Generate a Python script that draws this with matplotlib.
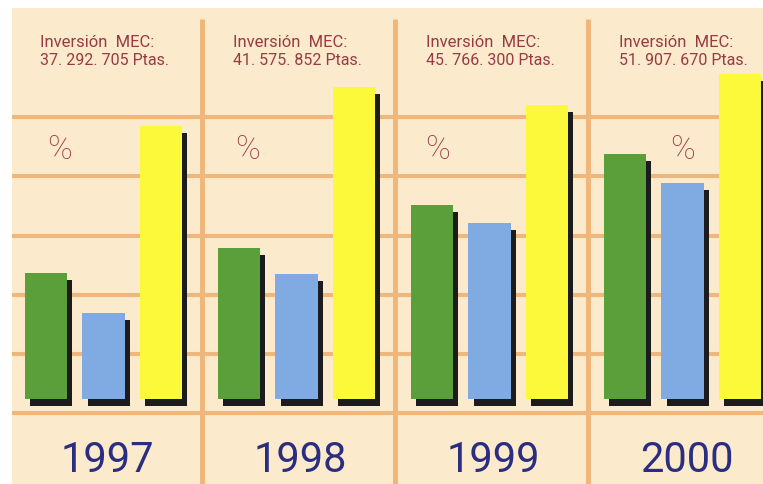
"""
Inversión MEC 1997-2000, barras con sombra
"""

import numpy as np
import matplotlib
matplotlib.use('Agg')
import matplotlib.pyplot as plt

# Datos:
years = ['1997', '1998', '1999', '2000']
inversion = ['37. 292. 705 Ptas.', '41. 575. 852 Ptas.',
             '45. 766. 300 Ptas.', '51. 907. 670 Ptas.']
green_vals = [21.3, 25.5, 32.8, 41.4]
blue_vals = [14.5, 21.1, 29.7, 36.5]
yellow_vals = [46.1, 52.7, 49.7, 54.9]

# Colores:
cream = '#FBEACB'
grid_color = '#F0B77C'
green = '#5B9F3B'
blue = '#80AAE2'
yellow = '#FBF93A'
shadow = '#1C1C1E'
maroon = '#9A3A45'
navy = '#2B2D80'

font = ['Roboto', 'DejaVu Sans']

fig = plt.figure(figsize=(7.63, 4.85), dpi=100)
fig.patch.set_facecolor('white')
ax = fig.add_axes([12 / 763, 0, 751 / 763, 476 / 485])
ax.set_facecolor(cream)
ax.set_xlim(-0.474, 3.417)
ax.set_ylim(-14.36, 66.05)
ax.set_xticks([])
ax.set_yticks([])
for s in ax.spines.values():
    s.set_visible(False)

# Rejilla:
for y in np.arange(-2.4, 50, 10.0):
    ax.axhline(y, color=grid_color, lw=2.9, zorder=1)
ax.vlines([0.51, 1.51, 2.51], -14.36, 64.2, color=grid_color, lw=3.6, zorder=1)

x = np.arange(len(years))
off = 0.298
w = 0.218
dx, dy = 0.027, 1.2

# Sombras y barras:
for xs, vals, col in [(x - off, green_vals, green), (x, blue_vals, blue),
                      (x + off, yellow_vals, yellow)]:
    ax.bar(xs + dx, vals, width=w, bottom=-dy, color=shadow, zorder=2)
    ax.bar(xs, vals, width=w, color=col, zorder=3)

# Textos:
pct_offsets = [-0.23, -0.255, -0.27, 0.0]
for i in range(len(years)):
    ax.text(i - 0.33, 59.6, 'Inversión  MEC:', color=maroon, fontsize=12,
            family=font, va='baseline', ha='left', zorder=4)
    ax.text(i - 0.33, 56.6, inversion[i], color=maroon, fontsize=11.5,
            family=font, va='baseline', ha='left', zorder=4)
    ax.text(i + pct_offsets[i], 42.2, '%', color=maroon, fontsize=24,
            family=font, fontweight='light', va='center', ha='center', zorder=4)
    ax.text(i + 0.02, -12.16, years[i], color=navy, fontsize=30,
            family=font, va='baseline', ha='center', zorder=4)

plt.savefig('out.png', dpi=100, facecolor=fig.get_facecolor())
